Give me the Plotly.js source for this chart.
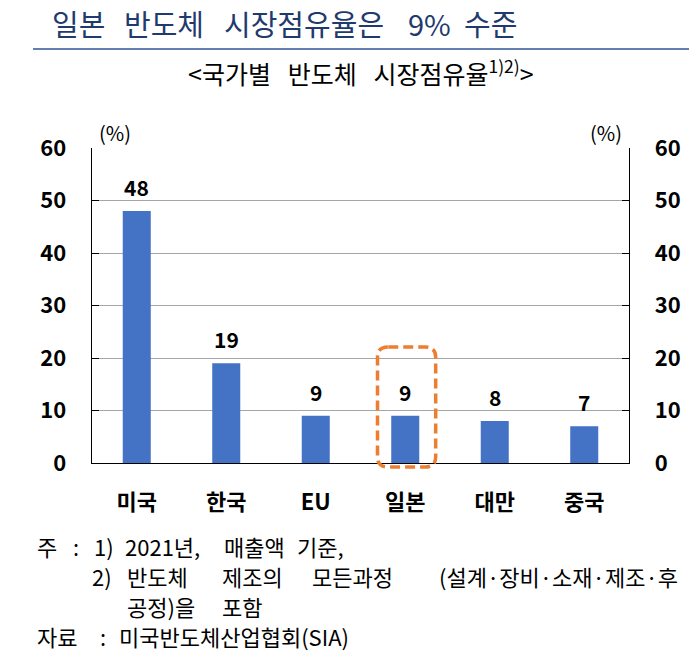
<!DOCTYPE html>
<html>
<head>
<meta charset="utf-8">
<script src="https://cdn.plot.ly/plotly-3.0.1.min.js"></script>
<style>html,body{margin:0;padding:0;background:#fff;}#chart{width:697px;height:654px;}</style>
</head>
<body>
<div id="chart"></div>
<script>
// ---- data ----
const categories = ['미국', '한국', 'EU', '일본', '대만', '중국'];
const shares = [48, 19, 9, 9, 8, 7];
const yTickVals = [0, 10, 20, 30, 40, 50, 60];
const highlightCategory = '일본';

// title words: [text, left px]
const titleWords = [['일본', 50], ['반도체', 122], ['시장점유율은', 222], ['9%', 406], ['수준', 462]];
const subtitleText = '&lt;국가별\u00a0\u00a0\u00a0반도체\u00a0\u00a0\u00a0시장점유율<sup>1)2)</sup>&gt;';
const unitText = '(%)';
// footnote words: [text, left px]
const noteLine1 = [['주', 35], [':', 71], ['1)', 92], ['2021년,', 123], ['매출액', 222], ['기준,', 295]];
const noteLine2 = [['2)', 90], ['반도체', 125], ['제조의', 220], ['모든과정', 310], ['(설계·장비·소재·제조·후', 437]];
const noteLine3 = [['공정)을', 125], ['포함', 220]];
const noteLine4 = [['자료', 35], [':', 98], ['미국반도체산업협회(SIA)', 117]];

// ---- layout geometry ----
const W = 697, H = 654;
const L = 92, R = 629, T = 148, B = 463;
const px = x => (x - L) / (R - L);
const py = y => (B - y) / (B - T);

const FONT = '"Noto Sans CJK KR", "Noto Sans", sans-serif';

const annotations = [];
// data labels
categories.forEach((c, i) => {
  annotations.push({
    x: c, y: shares[i], xref: 'x', yref: 'y', text: String(shares[i]),
    showarrow: false, yanchor: 'bottom', yshift: 7,
    font: {family: FONT, size: 21, color: '#000', weight: 600}
  });
});
// title words
titleWords.forEach(([t, xx]) => {
  annotations.push({xref: 'paper', yref: 'paper', x: px(xx), y: py(23), xanchor: 'left', yanchor: 'middle',
    text: t, showarrow: false, font: {family: FONT, size: 29, color: '#1F3A6E'}});
});
annotations.push({xref: 'paper', yref: 'paper', x: px(361), y: py(72), xanchor: 'center', yanchor: 'middle',
  text: subtitleText, showarrow: false, font: {family: FONT, size: 25, color: '#000'}});
annotations.push({xref: 'paper', yref: 'paper', x: px(115), y: py(133), xanchor: 'center', yanchor: 'middle',
  text: unitText, showarrow: false, font: {family: FONT, size: 20, color: '#000'}});
annotations.push({xref: 'paper', yref: 'paper', x: px(606), y: py(133), xanchor: 'center', yanchor: 'middle',
  text: unitText, showarrow: false, font: {family: FONT, size: 20, color: '#000'}});
// footnotes
[[noteLine1, 546], [noteLine2, 576], [noteLine3, 606], [noteLine4, 636]].forEach(([line, yy]) => {
  line.forEach(([t, xx]) => {
    annotations.push({xref: 'paper', yref: 'paper', x: px(xx), y: py(yy), xanchor: 'left', yanchor: 'middle',
      text: t, showarrow: false, font: {family: FONT, size: 22, color: '#000'}});
  });
});

// highlight box (rounded, dashed) around the highlighted category
const hi = categories.indexOf(highlightCategory);
const bx0 = hi - 0.31, bx1 = hi + 0.34;
const by0 = py(467), by1 = py(347);
const rx = 0.12, ry = 10 / (B - T);
const boxPath = `M ${bx0 + rx},${by1} L ${bx1 - rx},${by1} Q ${bx1},${by1} ${bx1},${by1 - ry} ` +
  `L ${bx1},${by0 + ry} Q ${bx1},${by0} ${bx1 - rx},${by0} L ${bx0 + rx},${by0} ` +
  `Q ${bx0},${by0} ${bx0},${by0 + ry} L ${bx0},${by1 - ry} Q ${bx0},${by1} ${bx0 + rx},${by1} Z`;

const shapes = [
  {type: 'line', xref: 'paper', yref: 'paper', x0: px(33), x1: px(689), y0: py(49), y1: py(49),
   line: {color: '#2F5496', width: 1.5}},
  {type: 'path', xref: 'x', yref: 'paper', path: boxPath,
   line: {color: '#ED7D31', width: 3.5, dash: '10px,5px'}}
];

const axisFont = {family: FONT, size: 22, color: '#000', weight: 'bold'};

const data = [
  {type: 'bar', x: categories, y: shares, width: 0.313, marker: {color: '#4472C4'},
   hoverinfo: 'x+y', cliponaxis: false},
  {type: 'scatter', mode: 'markers', x: categories, y: shares, yaxis: 'y2',
   marker: {opacity: 0, size: 1}, hoverinfo: 'skip', showlegend: false}
];

const layout = {
  width: W, height: H,
  margin: {l: L, r: W - R, t: T, b: H - B, pad: 0},
  paper_bgcolor: '#fff', plot_bgcolor: '#fff',
  showlegend: false,
  xaxis: {type: 'category', categoryorder: 'array', categoryarray: categories,
    showline: true, linecolor: '#000', linewidth: 1.3, ticks: '', showgrid: false,
    tickfont: axisFont, ticklabelstandoff: 19, fixedrange: true},
  yaxis: {range: [0, 60], tickvals: yTickVals, ticks: 'inside', ticklen: 7, tickcolor: '#000',
    showline: true, linecolor: '#000', linewidth: 1.3, showgrid: true, gridcolor: '#A6A6A6', gridwidth: 1,
    zeroline: false, tickfont: axisFont, ticklabelstandoff: 20, fixedrange: true},
  yaxis2: {range: [0, 60], tickvals: yTickVals, overlaying: 'y', side: 'right', ticks: 'inside', ticklen: 7,
    tickcolor: '#000', showline: true, linecolor: '#000', linewidth: 1.3, showgrid: false, zeroline: false,
    tickfont: axisFont, ticklabelstandoff: 20, fixedrange: true},
  annotations: annotations,
  shapes: shapes
};

Plotly.newPlot('chart', data, layout, {displayModeBar: false, staticPlot: true});
</script>
</body>
</html>
